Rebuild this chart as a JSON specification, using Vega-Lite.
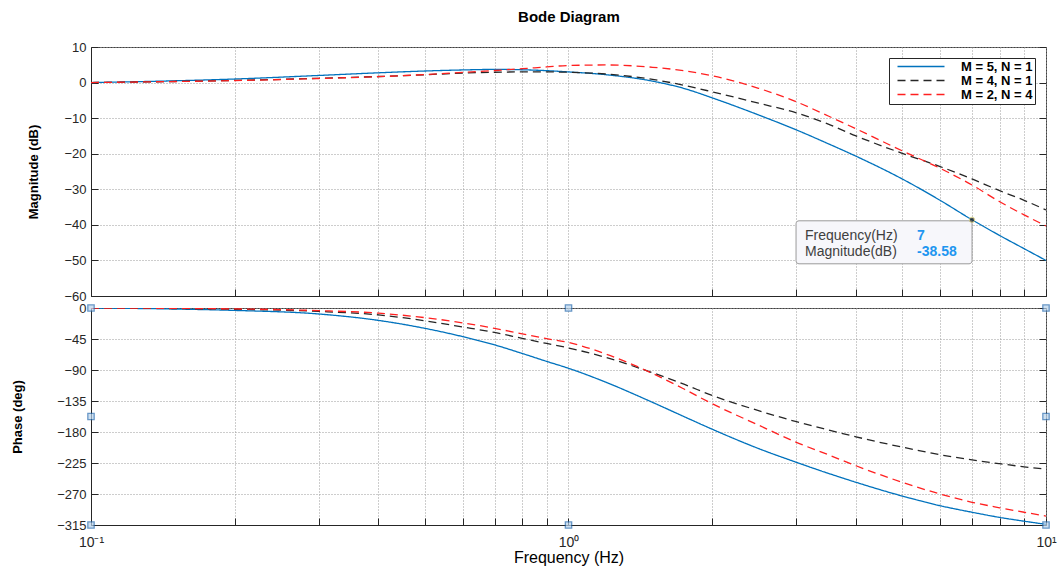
{
  "$schema": "https://vega.github.io/schema/vega-lite/v6.json",
  "background": "white",
  "padding": {"left": 11, "top": 9, "right": 8, "bottom": 2},
  "title": {"text": "Bode Diagram", "fontSize": 15, "fontWeight": "bold", "font": "Liberation Sans", "anchor": "middle", "offset": 16, "dx": 35, "color": "#000"},
  "config": {
    "font": "Liberation Sans",
    "view": {"stroke": "#404040", "strokeWidth": 1},
    "axis": {
      "labelFont": "Liberation Sans", "labelFontSize": 13, "labelColor": "#262626",
      "titleFont": "Liberation Sans", "titleFontSize": 13, "titleFontWeight": "bold", "titleColor": "#000",
      "gridColor": "#9a9a9a", "gridDash": [1, 2], "gridWidth": 1,
      "domainColor": "#262626", "tickColor": "#262626", "tickSize": -7, "labelPadding": 12, "labelOverlap": false, "tickCount": 40
    }
  },
  "datasets": {
    "bode": [
      {"f": 0.1, "s": "M = 5, N = 1", "mag": 0, "ph": 0},
      {"f": 0.15, "s": "M = 5, N = 1", "mag": 0.5, "ph": -1.5},
      {"f": 0.2, "s": "M = 5, N = 1", "mag": 1.0, "ph": -3.5},
      {"f": 0.3, "s": "M = 5, N = 1", "mag": 2.0, "ph": -8.7},
      {"f": 0.4, "s": "M = 5, N = 1", "mag": 2.75, "ph": -18},
      {"f": 0.5, "s": "M = 5, N = 1", "mag": 3.25, "ph": -29.5},
      {"f": 0.6, "s": "M = 5, N = 1", "mag": 3.55, "ph": -41.5},
      {"f": 0.7, "s": "M = 5, N = 1", "mag": 3.7, "ph": -53.5},
      {"f": 0.8, "s": "M = 5, N = 1", "mag": 3.6, "ph": -66},
      {"f": 0.9, "s": "M = 5, N = 1", "mag": 3.35, "ph": -77.5},
      {"f": 1, "s": "M = 5, N = 1", "mag": 3.0, "ph": -87.5},
      {"f": 1.2, "s": "M = 5, N = 1", "mag": 2.2, "ph": -108},
      {"f": 1.5, "s": "M = 5, N = 1", "mag": 0.4, "ph": -137},
      {"f": 1.75, "s": "M = 5, N = 1", "mag": -1.7, "ph": -158},
      {"f": 2, "s": "M = 5, N = 1", "mag": -4.3, "ph": -176},
      {"f": 2.5, "s": "M = 5, N = 1", "mag": -9.1, "ph": -204},
      {"f": 3, "s": "M = 5, N = 1", "mag": -13.3, "ph": -224},
      {"f": 3.5, "s": "M = 5, N = 1", "mag": -17.2, "ph": -240},
      {"f": 4, "s": "M = 5, N = 1", "mag": -20.7, "ph": -253},
      {"f": 5, "s": "M = 5, N = 1", "mag": -27.1, "ph": -273},
      {"f": 6, "s": "M = 5, N = 1", "mag": -33.1, "ph": -287},
      {"f": 7, "s": "M = 5, N = 1", "mag": -38.58, "ph": -296.5},
      {"f": 8, "s": "M = 5, N = 1", "mag": -43.0, "ph": -304},
      {"f": 9, "s": "M = 5, N = 1", "mag": -46.7, "ph": -309.5},
      {"f": 10, "s": "M = 5, N = 1", "mag": -50.0, "ph": -314},
      {"f": 0.1, "s": "M = 4, N = 1", "mag": 0, "ph": 0},
      {"f": 0.15, "s": "M = 4, N = 1", "mag": 0.3, "ph": -0.8},
      {"f": 0.2, "s": "M = 4, N = 1", "mag": 0.6, "ph": -1.8},
      {"f": 0.3, "s": "M = 4, N = 1", "mag": 1.2, "ph": -5},
      {"f": 0.4, "s": "M = 4, N = 1", "mag": 1.7, "ph": -10},
      {"f": 0.5, "s": "M = 4, N = 1", "mag": 2.2, "ph": -18.5},
      {"f": 0.6, "s": "M = 4, N = 1", "mag": 2.65, "ph": -27.5},
      {"f": 0.7, "s": "M = 4, N = 1", "mag": 2.9, "ph": -35.5},
      {"f": 0.8, "s": "M = 4, N = 1", "mag": 3.0, "ph": -44},
      {"f": 0.9, "s": "M = 4, N = 1", "mag": 3.0, "ph": -51.5},
      {"f": 1, "s": "M = 4, N = 1", "mag": 2.9, "ph": -58},
      {"f": 1.2, "s": "M = 4, N = 1", "mag": 2.4, "ph": -72},
      {"f": 1.5, "s": "M = 4, N = 1", "mag": 0.9, "ph": -94},
      {"f": 1.75, "s": "M = 4, N = 1", "mag": -0.8, "ph": -111},
      {"f": 2, "s": "M = 4, N = 1", "mag": -2.6, "ph": -127},
      {"f": 2.5, "s": "M = 4, N = 1", "mag": -5.8, "ph": -149},
      {"f": 3, "s": "M = 4, N = 1", "mag": -8.5, "ph": -165},
      {"f": 3.5, "s": "M = 4, N = 1", "mag": -11.7, "ph": -177},
      {"f": 4, "s": "M = 4, N = 1", "mag": -15.0, "ph": -187},
      {"f": 5, "s": "M = 4, N = 1", "mag": -19.9, "ph": -202},
      {"f": 6, "s": "M = 4, N = 1", "mag": -23.6, "ph": -213},
      {"f": 7, "s": "M = 4, N = 1", "mag": -27.1, "ph": -220.5},
      {"f": 8, "s": "M = 4, N = 1", "mag": -30.4, "ph": -226},
      {"f": 9, "s": "M = 4, N = 1", "mag": -33.1, "ph": -230.5},
      {"f": 10, "s": "M = 4, N = 1", "mag": -35.8, "ph": -234},
      {"f": 0.1, "s": "M = 2, N = 4", "mag": 0, "ph": 0},
      {"f": 0.15, "s": "M = 2, N = 4", "mag": 0.3, "ph": -0.5},
      {"f": 0.2, "s": "M = 2, N = 4", "mag": 0.55, "ph": -1.3},
      {"f": 0.3, "s": "M = 2, N = 4", "mag": 1.15, "ph": -3.8},
      {"f": 0.4, "s": "M = 2, N = 4", "mag": 1.65, "ph": -7.5},
      {"f": 0.5, "s": "M = 2, N = 4", "mag": 2.25, "ph": -14},
      {"f": 0.6, "s": "M = 2, N = 4", "mag": 2.85, "ph": -21.5},
      {"f": 0.7, "s": "M = 2, N = 4", "mag": 3.4, "ph": -29.5},
      {"f": 0.8, "s": "M = 2, N = 4", "mag": 3.9, "ph": -37.5},
      {"f": 0.9, "s": "M = 2, N = 4", "mag": 4.4, "ph": -44.5},
      {"f": 1, "s": "M = 2, N = 4", "mag": 4.8, "ph": -50},
      {"f": 1.2, "s": "M = 2, N = 4", "mag": 4.95, "ph": -67},
      {"f": 1.5, "s": "M = 2, N = 4", "mag": 4.3, "ph": -95},
      {"f": 1.75, "s": "M = 2, N = 4", "mag": 3.3, "ph": -118},
      {"f": 2, "s": "M = 2, N = 4", "mag": 1.9, "ph": -139},
      {"f": 2.5, "s": "M = 2, N = 4", "mag": -1.6, "ph": -170},
      {"f": 3, "s": "M = 2, N = 4", "mag": -5.4, "ph": -195},
      {"f": 3.5, "s": "M = 2, N = 4", "mag": -9.4, "ph": -213},
      {"f": 4, "s": "M = 2, N = 4", "mag": -13.0, "ph": -229},
      {"f": 5, "s": "M = 2, N = 4", "mag": -19.2, "ph": -253},
      {"f": 6, "s": "M = 2, N = 4", "mag": -24.1, "ph": -270},
      {"f": 7, "s": "M = 2, N = 4", "mag": -28.8, "ph": -282},
      {"f": 8, "s": "M = 2, N = 4", "mag": -33.5, "ph": -290},
      {"f": 9, "s": "M = 2, N = 4", "mag": -37.2, "ph": -296.5},
      {"f": 10, "s": "M = 2, N = 4", "mag": -40.3, "ph": -302}
    ],
    "datatip": [{"f": 7, "mag": -38.58, "flabel": "7", "mlabel": "-38.58"}],
    "handles": [
      {"f": 0.1, "ph": 0}, {"f": 1, "ph": 0}, {"f": 10, "ph": 0},
      {"f": 0.1, "ph": -157.5}, {"f": 10, "ph": -157.5},
      {"f": 0.1, "ph": -315}, {"f": 1, "ph": -315}, {"f": 10, "ph": -315}
    ]
  },
  "spacing": -3,
  "resolve": {"legend": {"color": "independent", "strokeDash": "independent"}},
  "vconcat": [
    {
      "width": 955,
      "height": 249,
      "encoding": {
        "x": {"field": "f", "type": "quantitative",
          "scale": {"type": "log", "domain": [0.1, 10], "nice": false},
          "axis": {"values": [0.1,0.2,0.3,0.4,0.5,0.6,0.7,0.8,0.9,1,2,3,4,5,6,7,8,9,10], "tickCount": 40, "labels": false, "labelPadding": 0, "title": null, "grid": true}}
      },
      "resolve": {"axis": {"y": "independent"}},
      "layer": [
        {
          "data": {"name": "bode"},
          "mark": {"type": "line", "strokeWidth": 1.3, "interpolate": "monotone", "clip": true},
          "encoding": {
            "y": {"field": "mag", "type": "quantitative",
              "scale": {"domain": [-60, 10], "nice": false},
              "axis": {"values": [-60,-50,-40,-30,-20,-10,0,10], "tickCount": 40, "title": "Magnitude (dB)", "grid": true, "titlePadding": 23, "labelOverlap": false}},
            "color": {"field": "s", "type": "nominal",
              "scale": {"domain": ["M = 5, N = 1", "M = 4, N = 1", "M = 2, N = 4"], "range": ["#0072BD", "#262626", "#FF2020"]},
              "legend": {"title": null, "orient": "top-right", "offset": 11, "strokeColor": "#262626", "fillColor": "white", "padding": 2,
                "labelFontSize": 13, "labelFontWeight": "bold", "labelColor": "#000", "symbolType": "M0,0H9.4", "symbolSize": 100, "symbolStrokeWidth": 1.3, "rowPadding": 0, "labelOffset": 57}},
            "strokeDash": {"field": "s", "type": "nominal",
              "scale": {"domain": ["M = 5, N = 1", "M = 4, N = 1", "M = 2, N = 4"], "range": [[1, 0], [8, 5], [8, 5]]},
              "legend": {"title": null, "orient": "top-right", "offset": 11, "strokeColor": "#262626", "fillColor": "white", "padding": 2,
                "labelFontSize": 13, "labelFontWeight": "bold", "labelColor": "#000", "symbolType": "M0,0H9.4", "symbolSize": 100, "symbolStrokeWidth": 1.3, "rowPadding": 0, "labelOffset": 57}}
          }
        },
        {
          "data": {"name": "datatip"},
          "mark": {"type": "point", "opacity": 0},
          "encoding": {"y": {"field": "mag", "type": "quantitative",
            "axis": {"orient": "right", "values": [-60,-50,-40,-30,-20,-10,0,10], "tickCount": 40, "labels": false, "title": null, "grid": false, "domain": false}}}
        },
        {
          "data": {"name": "datatip"},
          "mark": {"type": "rect", "xOffset": -176, "x2Offset": 0, "yOffset": 1, "y2Offset": 44, "fill": "#f7f7fb", "stroke": "#9a9a9a", "strokeWidth": 1, "cornerRadius": 3},
          "encoding": {
            "y": {"field": "mag", "type": "quantitative", "axis": null},
            "y2": {"field": "mag"},
            "x2": {"field": "f"}
          }
        },
        {
          "data": {"name": "datatip"},
          "mark": {"type": "point", "filled": true, "size": 28, "color": "#1a1a1a", "stroke": "#d8d070", "strokeWidth": 1},
          "encoding": {"y": {"field": "mag", "type": "quantitative", "axis": null}}
        },
        {
          "data": {"name": "datatip"},
          "mark": {"type": "text", "text": "Frequency(Hz)", "align": "left", "baseline": "alphabetic", "dx": -167, "dy": 20, "fontSize": 14, "color": "#404040"},
          "encoding": {"y": {"field": "mag", "type": "quantitative", "axis": null}}
        },
        {
          "data": {"name": "datatip"},
          "mark": {"type": "text", "align": "left", "baseline": "alphabetic", "dx": -55, "dy": 20, "fontSize": 14, "fontWeight": "bold", "color": "#1e96f0"},
          "encoding": {"y": {"field": "mag", "type": "quantitative", "axis": null}, "text": {"field": "flabel", "type": "nominal"}}
        },
        {
          "data": {"name": "datatip"},
          "mark": {"type": "text", "text": "Magnitude(dB)", "align": "left", "baseline": "alphabetic", "dx": -167, "dy": 36, "fontSize": 14, "color": "#404040"},
          "encoding": {"y": {"field": "mag", "type": "quantitative", "axis": null}}
        },
        {
          "data": {"name": "datatip"},
          "mark": {"type": "text", "align": "left", "baseline": "alphabetic", "dx": -55, "dy": 36, "fontSize": 14, "fontWeight": "bold", "color": "#1e96f0"},
          "encoding": {"y": {"field": "mag", "type": "quantitative", "axis": null}, "text": {"field": "mlabel", "type": "nominal"}}
        }
      ]
    },
    {
      "width": 955,
      "height": 217,
      "encoding": {
        "x": {"field": "f", "type": "quantitative",
          "scale": {"type": "log", "domain": [0.1, 10], "nice": false},
          "axis": {"values": [0.1,0.2,0.3,0.4,0.5,0.6,0.7,0.8,0.9,1,2,3,4,5,6,7,8,9,10], "tickCount": 40, "grid": true,
            "labelExpr": "datum.value == 0.1 ? '10⁻¹' : datum.value == 1 ? '10⁰' : datum.value == 10 ? '10¹' : ''",
            "labelFlush": false, "labelOverlap": false, "labelFontSize": 14, "labelPadding": 17,
            "title": "Frequency  (Hz)", "titleFontWeight": "normal", "titleFontSize": 16, "titlePadding": 0}}
      },
      "resolve": {"axis": {"y": "independent"}},
      "layer": [
        {
          "data": {"name": "bode"},
          "mark": {"type": "line", "strokeWidth": 1.3, "interpolate": "monotone", "clip": true},
          "encoding": {
            "y": {"field": "ph", "type": "quantitative",
              "scale": {"domain": [-315, 0], "nice": false},
              "axis": {"values": [0,-45,-90,-135,-180,-225,-270,-315], "tickCount": 40, "title": "Phase (deg)", "grid": true, "titlePadding": 32, "labelOverlap": false}},
            "color": {"field": "s", "type": "nominal",
              "scale": {"domain": ["M = 5, N = 1", "M = 4, N = 1", "M = 2, N = 4"], "range": ["#0072BD", "#262626", "#FF2020"]},
              "legend": null},
            "strokeDash": {"field": "s", "type": "nominal",
              "scale": {"domain": ["M = 5, N = 1", "M = 4, N = 1", "M = 2, N = 4"], "range": [[1, 0], [8, 5], [8, 5]]},
              "legend": null}
          }
        },
        {
          "data": {"name": "handles"},
          "mark": {"type": "point", "opacity": 0},
          "encoding": {"y": {"field": "ph", "type": "quantitative",
            "axis": {"orient": "right", "values": [0,-45,-90,-135,-180,-225,-270,-315], "tickCount": 40, "labels": false, "title": null, "grid": false, "domain": false}}}
        },
        {
          "data": {"name": "handles"},
          "mark": {"type": "point", "shape": "square", "filled": true, "size": 40, "fill": "#b9d3ec", "stroke": "#2a6db0", "strokeWidth": 1.3, "clip": false},
          "encoding": {"y": {"field": "ph", "type": "quantitative", "axis": null}}
        }
      ]
    }
  ]
}
